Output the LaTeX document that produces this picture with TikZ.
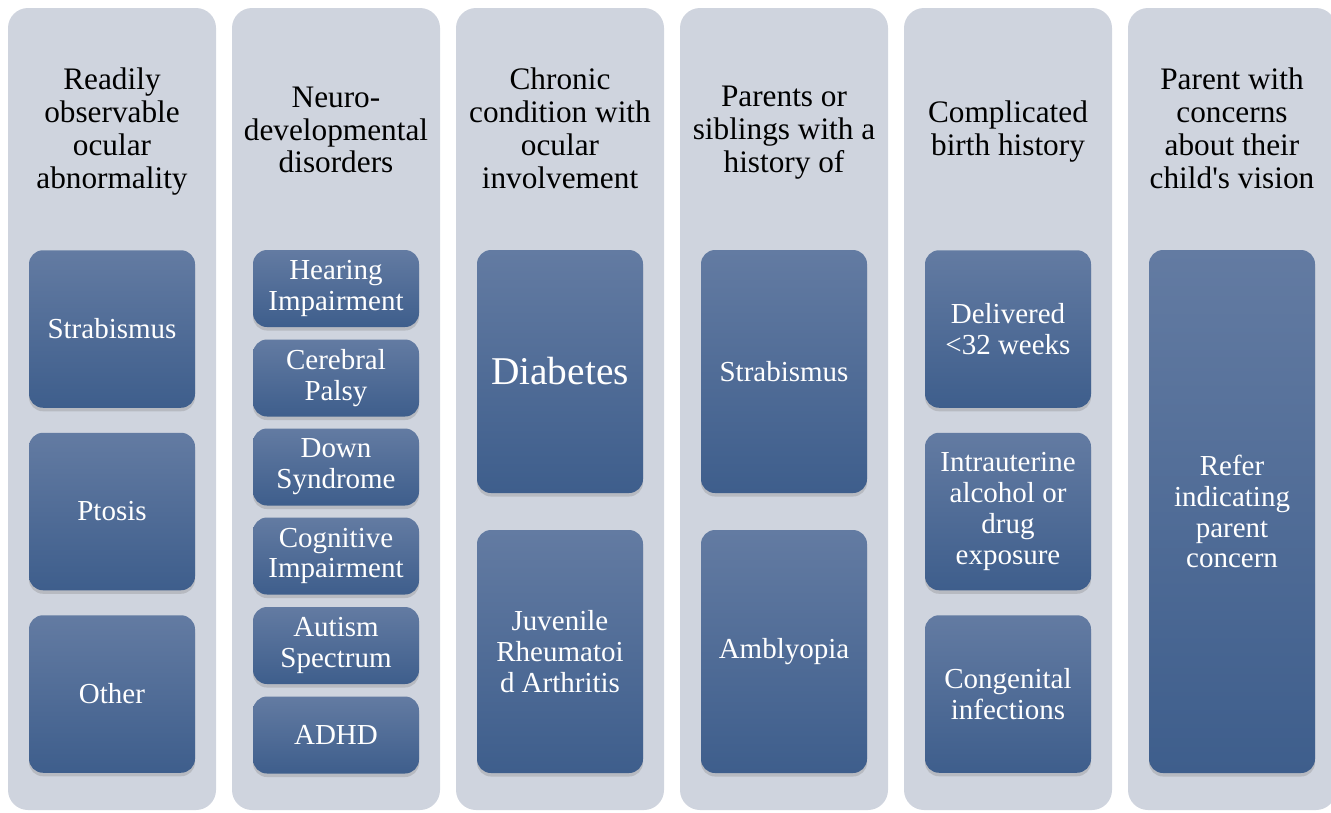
\documentclass[tikz,border=0pt]{standalone}
\usepackage{fontspec}
\setmainfont{Liberation Serif}
\usetikzlibrary{shadows}
\definecolor{colgray}{HTML}{CFD4DE}
\definecolor{boxtop}{HTML}{637BA2}
\definecolor{boxbot}{HTML}{3E5E8C}

\begin{document}
\begin{tikzpicture}[col/.style = {fill=colgray, rounded corners=0.4cm, minimum width=4.16cm, minimum height=16.04cm, inner sep=0pt},
    head/.style = {align=center, font=\fontsize{17.8}{18.7}\selectfont},
    main/.style = {rounded corners=0.28cm, top color=boxtop, bottom color=boxbot, text=white, align=center, minimum width=3.32cm, inner sep=0pt, font=\fontsize{16.5}{17.6}\selectfont, drop shadow={opacity=0.3, shadow xshift=0pt, shadow yshift=-2pt}}]
    \useasboundingbox (0,0) rectangle (26.62,-16.24);
    \clip (0,0) rectangle (26.62,-16.24);

    \node[col] (col1) at (2.24, -8.18) {};
    \node[col] (col2) at (6.72, -8.18) {};
    \node[col] (col3) at (11.2, -8.18) {};
    \node[col] (col4) at (15.68, -8.18) {};
    \node[col] (col5) at (20.16, -8.18) {};
    \node[col] (col6) at (24.64, -8.18) {};

    \node[head] (h1) at (2.24, -2.63) {Readily\\observable\\ocular\\abnormality};
    \node[main, minimum height=3.15cm] (strab1) at (2.24, -6.58) {Strabismus};
    \node[main, minimum height=3.15cm] (ptosis) at (2.24, -10.23) {Ptosis};
    \node[main, minimum height=3.15cm] (other) at (2.24, -13.88) {Other};

    \node[head] (h2) at (6.72, -2.6) {Neuro-\\developmental\\disorders};
    \node[main, minimum height=1.54cm] (hear) at (6.72, -5.77) {Hearing\\Impairment};
    \node[main, minimum height=1.54cm] (cp) at (6.72, -7.56) {Cerebral\\Palsy};
    \node[main, minimum height=1.54cm] (down) at (6.72, -9.34) {Down\\Syndrome};
    \node[main, minimum height=1.54cm] (cog) at (6.72, -11.12) {Cognitive\\Impairment};
    \node[main, minimum height=1.54cm] (autism) at (6.72, -12.91) {Autism\\Spectrum};
    \node[main, minimum height=1.54cm] (adhd) at (6.72, -14.70) {ADHD};

    \node[head] (h3) at (11.2, -2.56) {Chronic\\condition with\\ocular\\involvement};
    \node[main, minimum height=4.86cm, font=\fontsize{22.4}{24}\selectfont] (diab) at (11.2, -7.43) {Diabetes};
    \node[main, minimum height=4.86cm] (jra) at (11.2, -13.03) {Juvenile\\Rheumatoi\\d Arthritis};

    \node[head] (h4) at (15.68, -2.65) {Parents or\\siblings with a\\history of};
    \node[main, minimum height=4.86cm] (strab2) at (15.68, -7.43) {Strabismus};
    \node[main, minimum height=4.86cm] (ambly) at (15.68, -13.03) {Amblyopia};

    \node[head] (h5) at (20.16, -2.63) {Complicated\\birth history};
    \node[main, minimum height=3.15cm] (deliv) at (20.16, -6.58) {Delivered\\<32 weeks};
    \node[main, minimum height=3.15cm] (intra) at (20.16, -10.23) {Intrauterine\\alcohol or\\drug\\exposure};
    \node[main, minimum height=3.15cm] (cong) at (20.16, -13.88) {Congenital\\infections};

    \node[head] (h6) at (24.64, -2.57) {Parent with\\concerns\\about their\\child\textquotesingle s vision};
    \node[main, minimum height=10.46cm] (refer) at (24.64, -10.23) {Refer\\indicating\\parent\\concern};

\end{tikzpicture}
\end{document}
